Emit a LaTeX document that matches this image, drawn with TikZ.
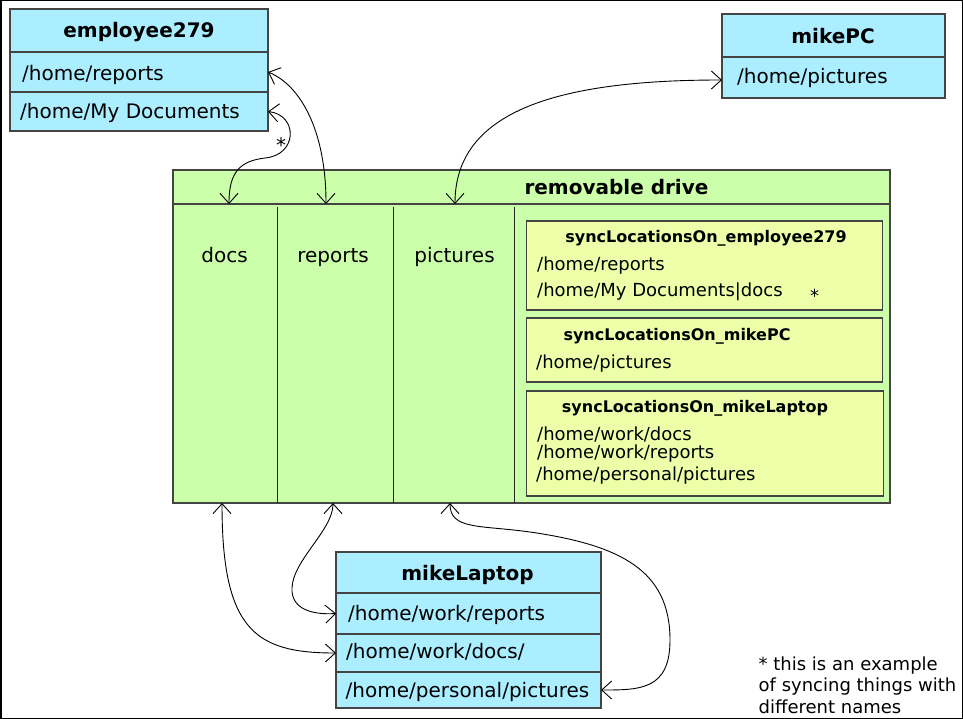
\documentclass[tikz,border=0pt]{standalone}
\usepackage{fontspec}
\setmainfont{DejaVu Sans}
\usetikzlibrary{arrows.meta}
\definecolor{cyanfill}{HTML}{AAEEFF}
\definecolor{greenfill}{HTML}{CCFFAA}
\definecolor{yellowfill}{HTML}{EEFFAA}
\definecolor{edgec}{HTML}{444444}
\newcommand\fbig{\fontsize{20}{24}\selectfont}
\newcommand\fmid{\fontsize{18}{22}\selectfont}
\newcommand\fsml{\fontsize{16}{19}\selectfont}
\tikzset{
  cell/.style={draw=edgec, line width=1.2pt, inner sep=0pt, outer sep=0pt, anchor=north west},
  cyancell/.style={cell, fill=cyanfill},
  greencell/.style={cell, fill=greenfill},
  yellowcell/.style={cell, fill=yellowfill},
  ttl/.style={inner sep=0pt, anchor=base, font=\fbig\bfseries},
  synct/.style={inner sep=0pt, anchor=base, font=\fsml\bfseries},
  row/.style={inner sep=0pt, anchor=base west, font=\fbig},
  srow/.style={inner sep=0pt, anchor=base west, font=\fmid},
  col/.style={inner sep=0pt, anchor=base, font=\fbig},
  divider/.style={draw=black!85, line width=1pt},
  conn/.style={line width=0.9pt, <->, >={Straight Barb[length=10pt,width=18pt]}}
}
\begin{document}
\begin{tikzpicture}[x=1pt,y=-1pt]
\useasboundingbox (0,0) rectangle (963,719);
\draw[line width=1.5pt] (0.75,0.75) rectangle (962.25,718.25);

% employee279
\node[cyancell, minimum width=258pt, minimum height=43pt] (e279h) at (10,9) {};
\node[cyancell, minimum width=258pt, minimum height=40pt] (e279r1) at (10,52) {};
\node[cyancell, minimum width=258pt, minimum height=39pt] (e279r2) at (10,92) {};
\node[ttl] (e279t) at (139,38) {employee279};
\node[row] (e279a) at (22,80.5) {/home/reports};
\node[row] (e279b) at (20,119) {/home/My Documents};

% mikePC
\node[cyancell, minimum width=223pt, minimum height=43pt] (pch) at (722,14) {};
\node[cyancell, minimum width=223pt, minimum height=41pt] (pcr1) at (722,57) {};
\node[ttl] (pct) at (833,44) {mikePC};
\node[row] (pca) at (737,84) {/home/pictures};

% removable drive
\node[greencell, minimum width=717pt, minimum height=34pt] (drvh) at (173,170) {};
\node[greencell, minimum width=717pt, minimum height=299pt] (drvb) at (173,204) {};
\node[ttl] (drvt) at (616.5,195) {removable drive};
\coordinate (v1t) at (277,207); \coordinate (v1b) at (277,503);
\coordinate (v2t) at (393,207); \coordinate (v2b) at (393,503);
\coordinate (v3t) at (514,207); \coordinate (v3b) at (514,503);
\draw[divider] (v1t) -- (v1b);
\draw[divider] (v2t) -- (v2b);
\draw[divider] (v3t) -- (v3b);
\node[col] (cdocs) at (224.5,262.5) {docs};
\node[col] (creps) at (333,262.5) {reports};
\node[col] (cpics) at (454.5,262) {pictures};

% sync boxes
\node[yellowcell, minimum width=356pt, minimum height=89pt] (s1) at (526.5,221) {};
\node[synct] (s1t) at (706,242.5) {syncLocationsOn\_employee279};
\node[srow] (s1a) at (537,270) {/home/reports};
\node[srow] (s1b) at (537,296.5) {/home/My Documents|docs};
\node[srow] (s1s) at (810,302) {*};

\node[yellowcell, minimum width=356pt, minimum height=64pt] (s2) at (526.5,318) {};
\node[synct] (s2t) at (677,340.5) {syncLocationsOn\_mikePC};
\node[srow] (s2a) at (536,368) {/home/pictures};

\node[yellowcell, minimum width=357pt, minimum height=105pt] (s3) at (526.5,391) {};
\node[synct] (s3t) at (695,412) {syncLocationsOn\_mikeLaptop};
\node[srow] (s3a) at (537,440) {/home/work/docs};
\node[srow] (s3b) at (537,458) {/home/work/reports};
\node[srow] (s3c) at (536,480) {/home/personal/pictures};

% mikeLaptop
\node[cyancell, minimum width=265pt, minimum height=41pt] (lph) at (336,552) {};
\node[cyancell, minimum width=265pt, minimum height=41pt] (lpr1) at (336,593) {};
\node[cyancell, minimum width=265pt, minimum height=38pt] (lpr2) at (336,634) {};
\node[cyancell, minimum width=265pt, minimum height=36pt] (lpr3) at (336,672) {};
\node[ttl] (lpt) at (467.5,580) {mikeLaptop};
\node[row] (lpa) at (348,620.5) {/home/work/reports};
\node[row] (lpb) at (346,658.5) {/home/work/docs/};
\node[row] (lpc) at (345.5,697) {/home/personal/pictures};

% footnote
\node[inner sep=0pt, anchor=base west, font=\fmid] (fn1) at (758.5,670) {* this is an example};
\node[inner sep=0pt, anchor=base west, font=\fmid] (fn2) at (758.5,691.5) {of syncing things with};
\node[inner sep=0pt, anchor=base west, font=\fmid] (fn3) at (758.5,713) {different names};

% connector anchors
\coordinate (docsTop) at (229,204);
\coordinate (repsTop) at (326,204);
\coordinate (picsTop) at (455,204);
\coordinate (docsBot) at (222,503);
\coordinate (repsBot) at (333,503);
\coordinate (picsBot) at (450,503);
\coordinate (pcIn) at (722,80);

\draw[conn] (e279r1.east) .. controls (300,85) and (326,130) .. (repsTop);
\draw[conn] (e279r2.east) .. controls (298,115) and (298,155) .. (265,158) .. controls (240,161) and (229,172) .. (docsTop);
\node[inner sep=0pt, anchor=base, font=\fbig] (star1) at (281,153) {*};
\draw[conn] (picsTop) .. controls (455,110) and (560,80) .. (pcIn);
\draw[conn] (docsBot) .. controls (222,630) and (255,653) .. (lpr2.west);
\draw[conn] (repsBot) .. controls (333,530) and (293,560) .. (292,588) .. controls (291,608) and (310,615) .. (lpr1.west);
\draw[conn] (picsBot) .. controls (450,530) and (480,525) .. (530,532) .. controls (620,545) and (670,570) .. (670,640) .. controls (670,690) and (640,690) .. (lpr3.east);
\end{tikzpicture}
\end{document}
